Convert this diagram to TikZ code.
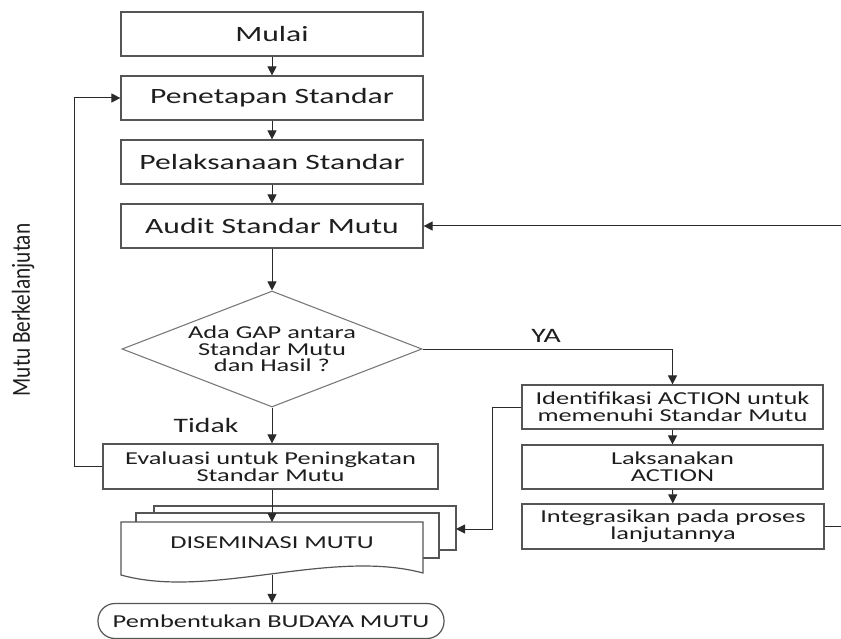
\documentclass[tikz,border=0pt]{standalone}
\usepackage{fontspec}
\setmainfont{Carlito}[FakeStretch=1.45]
\newfontfamily\sidefont{Carlito}[FakeStretch=0.82]
\usetikzlibrary{arrows.meta,shapes.geometric,calc}
\definecolor{boxgray}{HTML}{555555}
\definecolor{linegray}{HTML}{2A2A2A}
\definecolor{txt}{HTML}{1E1E1E}
\definecolor{diagray}{HTML}{7A7A7A}
\begin{document}
\begin{tikzpicture}[x=1pt,y=-1pt,
  topfont/.style={font=\fontsize{21.8}{24}\selectfont},
  lowfont/.style={font=\fontsize{18.2}{16.7}\selectfont},
  box/.style={draw=boxgray, line width=1.2pt, fill=white, minimum width=302pt, minimum height=44pt, inner sep=0pt, text=txt, topfont},
  lbox/.style={box, lowfont, align=center},
  sheet/.style={draw=boxgray, line width=1.2pt, fill=white},
  arr/.style={draw=linegray, line width=1pt, -{Triangle[length=9pt,width=9pt]}},
  lbl/.style={text=txt, font=\fontsize{20.5}{22}\selectfont}
]
\useasboundingbox (0,0) rectangle (841,639);
\fill[white] (0,0) rectangle (841,639);

% main column
\node[box] (mulai) at (272,34) {Mulai};
\node[box] (penet) at (272,98) {Penetapan Standar};
\node[box] (pelak) at (272,162) {Pelaksanaan Standar};
\node[box] (audit) at (272,226) {Audit Standar Mutu};
\node[draw=diagray, line width=1.1pt, diamond, minimum width=300pt, minimum height=116pt, inner sep=0pt] (gap) at (272,349) {};
\node[text=txt, lowfont, align=center, inner sep=0pt] (gapt) at (gap) {Ada GAP antara\\Standar Mutu\\dan Hasil ?};
\node[lbox, minimum width=335pt, minimum height=45pt] (eval) at (270.5,466.5) {Evaluasi untuk Peningkatan\\Standar Mutu};

% right column
\node[lbox, minimum width=301pt] (ident) at (672.5,407) {Identifikasi ACTION untuk\\memenuhi Standar Mutu};
\node[lbox, minimum width=301pt] (laks) at (672.5,467) {Laksanakan\\ACTION};
\node[lbox, minimum width=302pt, minimum height=45pt] (integ) at (673,526.5) {Integrasikan pada proses\\lanjutannya};

% multi-document stack
\draw[sheet] (154,506) rectangle (456,550);
\draw[sheet] (136,513) rectangle (439,558);
\draw[sheet] (121,522) -- (423,522) -- (423,573) .. controls (330,548) and (210,600) .. (121,575) -- cycle;
\node[text=txt, lowfont] (dis) at (272,543) {DISEMINASI MUTU};
\coordinate (dtop) at (272,522);
\coordinate (dbot) at (272,575);
\coordinate (dback) at (456,529);

% terminal
\node[draw=boxgray, line width=1.2pt, rounded corners=17pt, minimum width=346pt, minimum height=35pt, inner sep=0pt, text=txt, lowfont] (term) at (271,621) {Pembentukan BUDAYA MUTU};

% labels
\node[lbl] (tidak) at (206,425) {Tidak};
\node[lbl] (ya) at (546,336) {YA};
\node[rotate=90, text=txt, font=\sidefont\fontsize{26}{28}\selectfont] (side) at (23,310) {Mutu Berkelanjutan};

% connectors
\draw[arr] (mulai) -- (penet);
\draw[arr] (penet) -- (pelak);
\draw[arr] (pelak) -- (audit);
\draw[arr] (audit) -- (gap);
\draw[arr] (gap.east) -| (ident.north);
\draw[arr] (gap.south) -- (gap.south |- eval.north);
\draw[arr] (ident) -- (laks);
\draw[arr] (laks) -- (integ);
\draw[arr] (dtop |- eval.south) -- (dtop);
\draw[arr] (dbot) -- (dbot |- term.north);
\draw[arr] (ident.west) -- ++(-29,0) |- (dback);
\draw[arr] (eval.west) -- ++(-28,0) |- (penet.west);
\draw[arr] (integ.east) -- ++(30,0) |- (audit.east);
\end{tikzpicture}
\end{document}
